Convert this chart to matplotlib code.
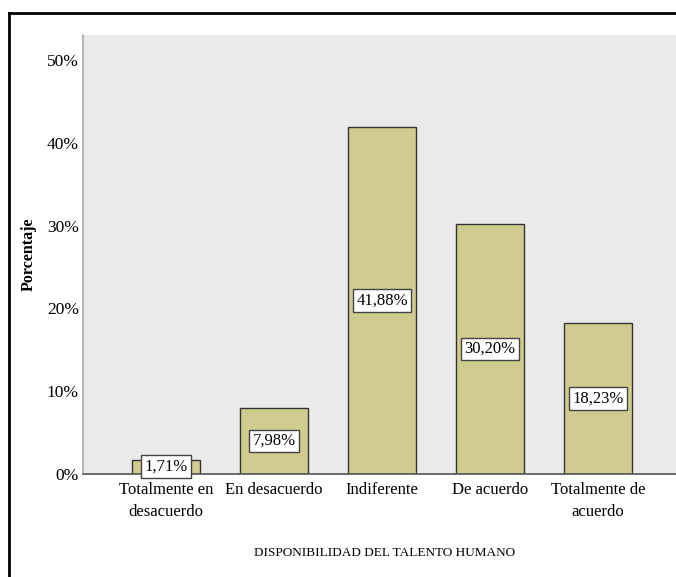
import matplotlib
matplotlib.use("Agg")
import matplotlib.pyplot as plt
from matplotlib.lines import Line2D

categories = ["Totalmente en\ndesacuerdo", "En desacuerdo", "Indiferente", "De acuerdo", "Totalmente de\nacuerdo"]
values = [1.71, 7.98, 41.88, 30.20, 18.23]
yticks = [0, 10, 20, 30, 40, 50]
ytick_labels = ["0%", "10%", "20%", "30%", "40%", "50%"]
xlabel = "DISPONIBILIDAD DEL TALENTO HUMANO"
ylabel = "Porcentaje"

plt.rcParams['font.family'] = ['Liberation Serif', 'DejaVu Serif']

fig = plt.figure(figsize=(6.76, 5.77), dpi=100)
ax = fig.add_axes([83 / 676, 103 / 577, 1 - 83 / 676, 439 / 577])
ax.set_facecolor("#EAEAEA")

x = list(range(len(categories)))
ax.bar(x, values, width=0.63, color="#D0CB8E", edgecolor="#333333", linewidth=1.0, zorder=2)

for xi, v in zip(x, values):
    label = f"{v:.2f}%".replace(".", ",")
    ax.text(xi, max(v / 2, 0.9), label, ha="center", va="center", fontsize=12, zorder=3,
            bbox=dict(boxstyle="square,pad=0.2", facecolor="white", edgecolor="#444444", linewidth=1.0))

ax.set_xlim(-0.769, 4.722)
ax.set_ylim(0, 53.0)
ax.set_yticks(yticks)
ax.set_yticklabels(ytick_labels, fontsize=12.5)
ax.set_xticks(x)
ax.set_xticklabels(categories, fontsize=12, linespacing=1.45)
ax.tick_params(axis="both", length=0)
ax.tick_params(axis="y", pad=3)
ax.tick_params(axis="x", pad=6)

for s in ["top", "right"]:
    ax.spines[s].set_visible(False)
ax.spines["left"].set_color("#AAAAAA")
ax.spines["left"].set_linewidth(1.2)
ax.spines["bottom"].set_color("#555555")
ax.spines["bottom"].set_linewidth(1.2)

ax.set_xlabel(xlabel, fontsize=9.5, va="center", ha="center")
ax.xaxis.set_label_coords(0.509, -0.18)
ax.set_ylabel(ylabel, fontsize=11.5, fontweight="bold", va="center", ha="center")
ax.yaxis.set_label_coords(-0.091, 0.5)

# outer frame (left and top edges)
fig.add_artist(Line2D([9 / 676, 9 / 676], [0, 1 - 12.5 / 577], transform=fig.transFigure, color="black", linewidth=2))
fig.add_artist(Line2D([9 / 676, 1], [1 - 12.5 / 577, 1 - 12.5 / 577], transform=fig.transFigure, color="black", linewidth=2))

fig.savefig("out.png", dpi=100)
